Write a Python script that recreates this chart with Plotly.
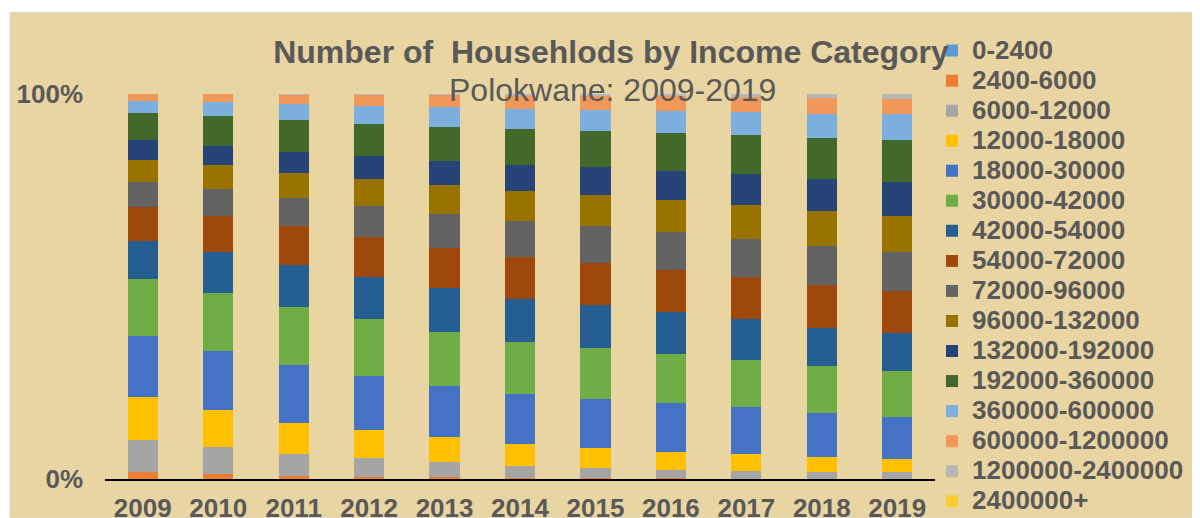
import plotly.graph_objects as go

years = ["2009", "2010", "2011", "2012", "2013", "2014", "2015", "2016", "2017", "2018", "2019"]

categories = [
    "0-2400", "2400-6000", "6000-12000", "12000-18000", "18000-30000", "30000-42000",
    "42000-54000", "54000-72000", "72000-96000", "96000-132000", "132000-192000",
    "192000-360000", "360000-600000", "600000-1200000", "1200000-2400000", "2400000+",
]

colors = [
    "#5B9BD5", "#ED7D31", "#A5A5A5", "#FFC000", "#4472C4", "#70AD47",
    "#255E91", "#9E480E", "#636363", "#997300", "#264478",
    "#43682B", "#7CAFDD", "#F1975A", "#B7B7B7", "#FFCD33",
]

# share of households (%) per income category, 2009-2019
inc_0_2400 = [0, 0, 0, 0, 0, 0, 0, 0, 0, 0, 0]
inc_2400_6000 = [1.9, 1.3, 0.8, 0.6, 0.4, 0.3, 0.2, 0.2, 0.1, 0.1, 0.1]
inc_6000_12000 = [8.3, 7.1, 5.7, 4.9, 4.0, 3.2, 2.6, 2.2, 2.0, 1.7, 1.6]
inc_12000_18000 = [11.0, 9.5, 8.0, 7.3, 6.6, 5.6, 5.2, 4.7, 4.4, 3.9, 3.6]
inc_18000_30000 = [15.9, 15.4, 15.0, 14.0, 13.1, 12.9, 12.7, 12.6, 12.1, 11.5, 10.9]
inc_30000_42000 = [14.8, 15.1, 15.3, 14.7, 14.1, 13.6, 13.3, 12.8, 12.4, 12.1, 11.8]
inc_42000_54000 = [9.8, 10.5, 10.9, 11.1, 11.4, 11.2, 11.0, 10.8, 10.5, 10.0, 9.9]
inc_54000_72000 = [8.9, 9.5, 9.9, 10.4, 10.5, 10.9, 10.9, 11.1, 11.1, 11.1, 11.0]
inc_72000_96000 = [6.5, 6.9, 7.5, 8.1, 8.8, 9.3, 9.6, 9.7, 9.9, 10.2, 10.1]
inc_96000_132000 = [5.7, 6.3, 6.3, 6.9, 7.4, 7.7, 8.1, 8.4, 8.8, 9.1, 9.4]
inc_132000_192000 = [5.1, 5.1, 5.6, 6.1, 6.4, 6.9, 7.2, 7.7, 8.1, 8.4, 8.7]
inc_192000_360000 = [6.9, 7.6, 8.2, 8.2, 8.8, 9.2, 9.5, 9.8, 10.1, 10.6, 10.9]
inc_360000_600000 = [3.3, 3.7, 4.2, 4.7, 5.0, 5.2, 5.4, 5.6, 6.0, 6.3, 6.7]
inc_600000_1200000 = [1.7, 2.1, 2.5, 2.9, 3.3, 3.6, 3.6, 3.9, 3.7, 4.1, 4.1]
inc_1200000_2400000 = [0, 0, 0.1, 0.2, 0.2, 0.3, 0.5, 0.6, 0.9, 1.0, 1.2]
inc_2400000_plus = [0, 0, 0, 0, 0, 0, 0, 0, 0, 0, 0]

series = [
    inc_0_2400, inc_2400_6000, inc_6000_12000, inc_12000_18000, inc_18000_30000,
    inc_30000_42000, inc_42000_54000, inc_54000_72000, inc_72000_96000,
    inc_96000_132000, inc_132000_192000, inc_192000_360000, inc_360000_600000,
    inc_600000_1200000, inc_1200000_2400000, inc_2400000_plus,
]

y_tickvals = [0, 100]
y_ticktext = ["0%", "100%"]

title_text = "Number of  Househlods by Income Category"
subtitle_text = "Polokwane: 2009-2019"

TEXT = "#595959"
FONT = "Liberation Sans, Arial, sans-serif"

# page body has an 8px margin: figure pixel = window pixel - 8
OFF = 8
W, H = 1200 - OFF, 518 - OFF
# plot area in window pixels: x 105..935, y 93.5..479
PL, PR, PT, PB = 105 - OFF, 935 - OFF, 93.5 - OFF, 479 - OFF
PW, PH = PR - PL, PB - PT


def px_x(wx):
    return ((wx - OFF) - PL) / PW


def px_y(wy):
    return (PB - (wy - OFF)) / PH


fig = go.Figure()
for name, color, vals in zip(categories, colors, series):
    fig.add_trace(go.Bar(
        x=years, y=vals,
        name='<span style="font-size:26px">' + name + '</span>',
        marker=dict(color=color, line=dict(width=0)),
        hovertemplate=name + ": %{y:.1f}%<extra></extra>",
    ))

fig.update_layout(
    width=W, height=H,
    barmode="stack", barnorm="percent", bargap=0.6,
    paper_bgcolor="white", plot_bgcolor="rgba(0,0,0,0)",
    margin=dict(l=PL, r=W - PR, t=PT, b=H - PB, autoexpand=False),
    font=dict(family=FONT, color=TEXT),
    title=dict(
        text="<b>" + title_text + "</b>",
        font=dict(size=32, color=TEXT, family=FONT),
        x=(611 - OFF) / W, xanchor="center", xref="container",
        y=1 - 33 / H, yanchor="top", yref="container",
    ),
    annotations=[dict(
        text=subtitle_text, showarrow=False,
        xref="paper", yref="paper", x=px_x(612), y=px_y(89.5),
        xanchor="center", yanchor="middle",
        font=dict(size=32, color=TEXT, family=FONT),
    )],
    showlegend=True,
    legend=dict(
        traceorder="normal",
        font=dict(size=20.8, color=TEXT, family=FONT, weight="bold"),
        x=px_x(932), xanchor="left", xref="paper",
        y=px_y(30), yanchor="top", yref="paper",
        maxheight=700,
        bgcolor="rgba(0,0,0,0)", borderwidth=0,
        itemclick=False, itemdoubleclick=False,
    ),
    xaxis=dict(
        type="category", showgrid=False, showline=True, linecolor="black", linewidth=2,
        ticks="", tickfont=dict(size=26, color=TEXT, family=FONT, weight="bold"),
        ticklabelstandoff=5, fixedrange=True,
    ),
    yaxis=dict(
        range=[0, 100], tickvals=y_tickvals, ticktext=y_ticktext,
        showgrid=True, gridcolor="black", gridwidth=1.3, griddash="7px,5px",
        zeroline=False, showline=False, ticks="",
        tickfont=dict(size=26, color=TEXT, family=FONT, weight="bold"),
        ticklabelstandoff=21, fixedrange=True,
    ),
    shapes=[dict(
        type="rect", xref="paper", yref="paper",
        x0=px_x(10), x1=px_x(1200), y0=px_y(518), y1=px_y(12),
        fillcolor="#E9D5A2", line=dict(color="#D9D9D9", width=1), layer="below",
    )],
)

fig.write_html("out.html")
